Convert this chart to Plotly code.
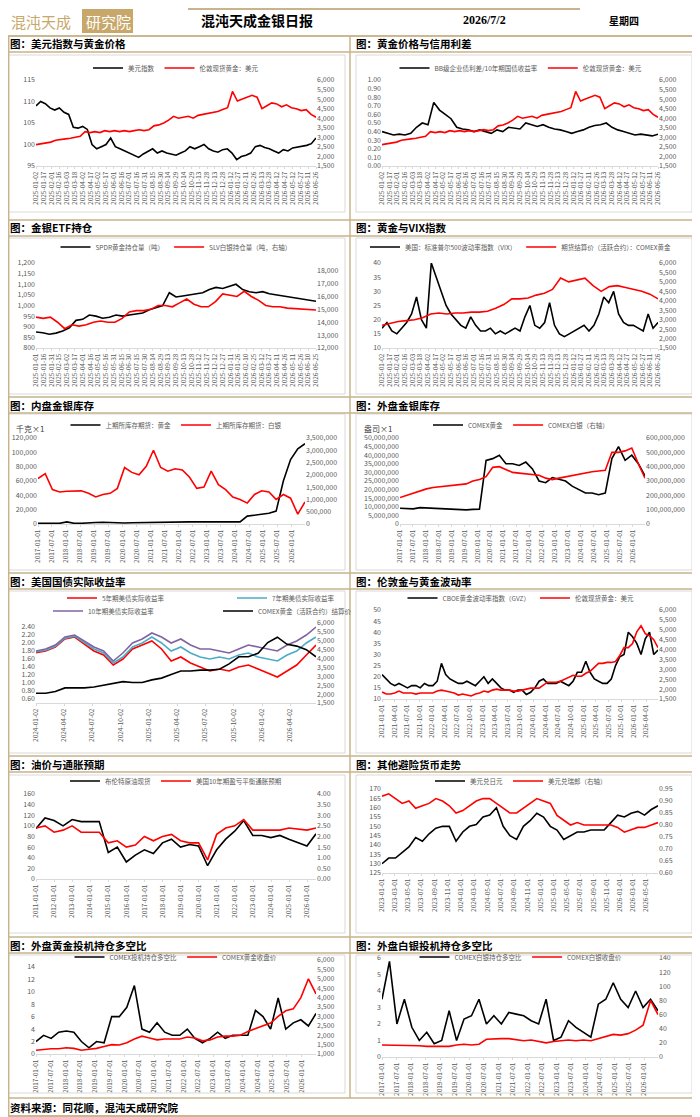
import plotly.graph_objects as go
import pandas as pd

# ---------------- data ----------------
dxy = [109,110,109.5,108.5,108,108.5,107.5,107,104,103.8,104.2,103.5,100,99,99.5,100,101.5,99.5,99,98.5,98,97.5,97,97.8,98.5,99,98,98.5,98,97.8,97.5,98,98.5,99.5,99,99.5,100,99,98.5,98.2,98.8,99,98,96.5,97.2,97.5,98,99.5,99.8,99.3,99,98.5,98,98.8,98.5,99.2,99.4,99.5,99.8,100.2,101.5]
gold_ldn = [2620,2650,2700,2750,2850,2900,2920,2950,3000,3050,3300,3250,3300,3250,3350,3300,3350,3300,3350,3300,3350,3400,3350,3400,3600,3650,3750,3900,4100,4000,4050,4100,4000,4150,4200,4250,4300,4350,4450,4550,5400,4900,5000,5100,5200,5100,4500,4650,4800,4750,4600,4700,4550,4500,4400,4450,4200,4050]
spread = [0.40,0.38,0.36,0.37,0.36,0.38,0.45,0.50,0.48,0.74,0.65,0.60,0.55,0.45,0.43,0.42,0.40,0.42,0.40,0.38,0.42,0.40,0.45,0.44,0.43,0.50,0.48,0.46,0.48,0.45,0.43,0.42,0.40,0.38,0.40,0.42,0.45,0.47,0.48,0.50,0.45,0.42,0.40,0.38,0.36,0.37,0.36,0.35,0.37]
spdr = [875,872,865,870,880,895,930,935,955,950,940,945,955,950,955,960,965,980,990,1000,1060,1040,1045,1050,1055,1060,1075,1085,1080,1090,1100,1075,1065,1060,1065,1055,1050,1045,1040,1035,1030,1025,1020]
slv = [14400,14300,14400,14000,13500,13800,13700,13800,14000,14100,14000,14000,14300,14800,14900,14900,15000,15300,15300,15200,15500,15800,15400,15200,15200,15600,16200,16100,16000,16400,16000,15700,15300,15200,15200,15100,15050,15000,15000,14950]
vix = [17,19,16,15,17,19,22,28,20,17,40,35,30,25,22,20,18,17,21,18,16,16,17,15,16,15,16,17,16,21,25,18,17,19,26,18,15,14,15,16,17,18,16,18,22,28,26,30,22,19,18,18,17,16,22,17,19]
gold_comex = [2700,2800,2900,2950,3000,3100,3300,3350,3300,3350,3350,3400,3400,3450,3600,3800,4100,4100,4150,4300,4400,4600,5200,5000,5100,5200,4800,4500,4750,4800,4700,4600,4500,4350,4100]
shfe_gold = [1000,1000,1500,1000,3000,1000,1000,1000,2000,2500,2000,1500,1500,1800,2000,2000,3000,3000,3000,3000,3500,3000,3000,3000,3000,3000,2500,3000,3000,11000,12000,14000,15000,18000,60000,90000,105000,112000]
shfe_silver = [1850000,2050000,1400000,1300000,1330000,1330000,1350000,1250000,1100000,1200000,1250000,1450000,2300000,2100000,2000000,2350000,3000000,2300000,2150000,2250000,2200000,1900000,1450000,1500000,2150000,1600000,1400000,1100000,1000000,850000,1200000,1350000,1300000,1000000,1200000,1050000,400000,900000]
comex_gold_inv = [9.2e6,9.0e6,8.8e6,9.5e6,9.3e6,9.0e6,8.8e6,8.5e6,8.3e6,8.0e6,8.2e6,8.5e6,8.6e6,37e6,38e6,40e6,35e6,35e6,34e6,36e6,32e6,25e6,24e6,27e6,26e6,25e6,22e6,20e6,18e6,18e6,17e6,18e6,38e6,45e6,37e6,40e6,35e6,28e6]
comex_silver_inv = [185e6,200e6,215e6,235e6,245e6,255e6,260e6,265e6,270e6,275e6,280e6,300e6,310e6,330e6,395e6,400e6,380e6,360e6,355e6,350e6,345e6,340e6,320e6,310e6,320e6,330e6,340e6,350e6,360e6,365e6,370e6,375e6,500e6,500e6,510e6,530e6,420e6,320e6]
tips10 = [1.80,1.85,1.95,2.15,2.20,2.05,1.90,1.80,1.55,1.75,2.00,2.10,2.25,2.15,2.00,2.10,1.95,1.85,1.85,1.80,1.75,1.85,1.95,1.90,1.85,1.80,1.95,2.05,2.20,2.40]
tips7 = [1.78,1.82,1.92,2.12,2.17,2.00,1.85,1.75,1.50,1.65,1.90,2.00,2.15,2.00,1.80,1.90,1.75,1.65,1.60,1.65,1.60,1.70,1.75,1.65,1.60,1.55,1.70,1.80,2.00,2.15]
tips5 = [1.76,1.80,1.90,2.10,2.15,1.98,1.80,1.70,1.45,1.60,1.85,1.95,2.05,1.85,1.55,1.65,1.50,1.40,1.30,1.35,1.30,1.40,1.45,1.35,1.25,1.15,1.30,1.45,1.70,1.95]
gold_comex2 = [2050,2050,2150,2350,2350,2350,2400,2500,2600,2700,2650,2650,2800,2900,3100,3300,3300,3350,3350,3400,3700,4100,4100,4300,4900,5200,4800,4700,4500,4100]
gvz = [21,19,17,16,17,16,15,16,16,15,17,16,16,18,26,21,19,18,17,17,18,17,16,18,20,17,19,17,15,14,14,13,14,14,12,13,15,18,19,17,17,17,18,17,16,18,22,22,27,22,19,18,17,17,19,25,29,30,40,38,35,30,37,40,30,32]
gold_ldn2 = [1850,1750,1750,1800,1900,1800,1800,1800,1750,1800,1800,1800,1800,1900,1950,1900,1850,1800,1700,1750,1700,1650,1750,1800,1900,1850,1950,2000,1950,1950,1950,1900,1900,1950,2000,2050,2050,2050,2200,2350,2350,2350,2400,2500,2600,2700,2650,2650,2800,2900,3100,3300,3300,3350,3350,3400,3700,4100,4100,4300,4900,5200,4800,4700,4500,4100]
brent = [95,115,110,100,112,108,108,108,50,60,32,45,55,48,68,75,60,65,62,25,55,75,90,110,82,82,78,82,75,68,62,85]
breakeven = [2.4,2.5,2.2,2.3,2.5,2.2,2.2,2.2,1.7,1.8,1.5,1.6,2.0,1.8,2.0,2.1,1.8,1.7,1.7,0.9,2.1,2.4,2.5,2.8,2.3,2.3,2.3,2.3,2.4,2.35,2.3,2.4]
usdjpy = [130,133,133,136,139,144,142,146,149,150,150,142,147,150,151,155,156,160,150,145,143,150,153,157,155,150,148,143,145,147,147,148,148,148,152,156,155,157,158,156,159,161]
usdchf = [0.92,0.93,0.91,0.89,0.90,0.87,0.88,0.89,0.91,0.90,0.88,0.85,0.86,0.88,0.90,0.91,0.91,0.89,0.87,0.85,0.85,0.87,0.89,0.91,0.90,0.89,0.84,0.82,0.80,0.81,0.80,0.80,0.80,0.80,0.80,0.79,0.77,0.78,0.79,0.79,0.80,0.81]
gold_ratio = [2,3,2.5,3.5,3.7,3.5,2.0,1.0,2.0,1.8,6.0,6.0,7.5,11,4.0,3.5,5.0,3.5,3.0,3.0,4.0,2.5,1.8,2.5,3.5,2.5,3.0,3.0,3.0,7,6,4,9,4,5,5.5,4.5,6.5]
gold_close = [1200,1250,1280,1280,1330,1300,1200,1250,1300,1400,1500,1480,1600,1800,1950,1850,1750,1800,1800,1800,1900,1850,1700,1750,1900,1950,1950,2000,2200,2350,2500,2650,3000,3300,3400,4000,5000,4200]
silver_ratio = [3.5,5.8,2.0,3.5,1.8,1.0,1.5,0.8,1.0,2.8,1.0,2.3,2.5,3.5,2.0,2.5,2.0,2.7,2.6,2.5,2.2,2.0,3.5,1.0,1.2,2.2,1.8,1.5,1.2,3.2,3.5,4.5,3.5,3.0,4.0,3.0,3.5,2.8]
silver_close = [17,17,17,16,16,16,15,15,15,15,17,18,17,18,25,26,26,26,24,23,24,22,20,22,23,24,23,24,23,26,30,32,31,33,38,45,80,60]

RED, BLK = "#ff0000", "#000000"
D15 = 15 * 86400000

panels = [
    ("图：美元指数与黄金价格", 0, 0, "2025-01-02", "2026-06-26", "2025-01-02", D15,
     [("美元指数", dxy, BLK, 1), ("伦敦现货黄金：美元", gold_ldn, RED, 2)],
     (95, 115, 5, ",.0f"), (1500, 6000, 500, ",.0f")),
    ("图：黄金价格与信用利差", 1, 0, "2025-01-02", "2026-06-26", "2025-01-02", D15,
     [("BB级企业债利差/10年期国债收益率", spread, BLK, 1), ("伦敦现货黄金：美元", gold_ldn, RED, 2)],
     (0, 1, 0.1, ".2f"), (1500, 6000, 500, ",.0f")),
    ("图：金银ETF持仓", 0, 1, "2025-01-01", "2026-06-25", "2025-01-01", D15,
     [("SPDR黄金持仓量（吨）", spdr, BLK, 1), ("SLV白银持仓量（吨，右轴）", slv, RED, 2)],
     (800, 1200, 50, ",.0f"), (12000, 18600, 1000, ",.0f")),
    ("图：黄金与VIX指数", 1, 1, "2025-01-02", "2026-06-26", "2025-01-02", D15,
     [("美国：标准普尔500波动率指数（VIX）", vix, BLK, 1), ("期货结算价（活跃合约）：COMEX黄金", gold_comex, RED, 2)],
     (10, 40, 5, ",.0f"), (1500, 6000, 500, ",.0f")),
    ("图：内盘金银库存", 0, 2, "2017-01-01", "2026-06-25", "2017-01-01", "M6",
     [("上期所库存期货：黄金", shfe_gold, BLK, 1), ("上期所库存期货：白银", shfe_silver, RED, 2)],
     (0, 120000, 20000, ",.0f"), (0, 3500000, 500000, ",.0f")),
    ("图：外盘金银库存", 1, 2, "2017-01-01", "2026-06-25", "2017-01-01", "M6",
     [("COMEX黄金", comex_gold_inv, BLK, 1), ("COMEX白银（右轴）", comex_silver_inv, RED, 2)],
     (0, 50e6, 5e6, ",.0f"), (0, 600e6, 100e6, ",.0f")),
    ("图：美国国债实际收益率", 0, 3, "2024-01-02", "2026-06-25", "2024-01-02", "M3",
     [("5年期美债实际收益率", tips5, RED, 1), ("7年期美债实际收益率", tips7, "#4bacc6", 1),
      ("10年期美债实际收益率", tips10, "#8064a2", 1), ("COMEX黄金（活跃合约）结算价", gold_comex2, BLK, 2)],
     (0.5, 2.5, 0.2, ".2f"), (1500, 6000, 500, ",.0f")),
    ("图：伦敦金与黄金波动率", 1, 3, "2021-01-01", "2026-06-25", "2021-01-01", "M3",
     [("CBOE黄金波动率指数（GVZ）", gvz, BLK, 1), ("伦敦现货黄金：美元", gold_ldn2, RED, 2)],
     (10, 50, 5, ",.0f"), (1500, 6000, 500, ",.0f")),
    ("图：油价与通胀预期", 0, 4, "2011-01-01", "2026-06-25", "2011-01-01", "M12",
     [("布伦特原油现货", brent, BLK, 1), ("美国10年期盈亏平衡通胀预期", breakeven, RED, 2)],
     (0, 160, 20, ",.0f"), (0, 4, 0.5, ".2f")),
    ("图：其他避险货币走势", 1, 4, "2023-01-01", "2026-06-25", "2023-01-01", "M2",
     [("美元兑日元", usdjpy, BLK, 1), ("美元兑瑞郎（右轴）", usdchf, RED, 2)],
     (125, 170, 5, ",.0f"), (0.60, 0.95, 0.05, ".2f")),
    ("图：外盘黄金投机持仓多空比", 0, 5, "2017-01-01", "2026-06-25", "2017-01-01", "M6",
     [("COMEX投机持仓多空比", gold_ratio, BLK, 1), ("COMEX黄金收盘价", gold_close, RED, 2)],
     (0, 15.1, 2, ",.0f"), (1000, 6000, 500, ",.0f")),
    ("图：外盘白银投机持仓多空比", 1, 5, "2017-01-01", "2026-06-25", "2017-01-01", "M6",
     [("COMEX白银持仓多空比", silver_ratio, BLK, 1), ("COMEX白银收盘价", silver_close, RED, 2)],
     (0, 6, 1, ",.0f"), (0, 140, 20, ",.0f")),
]

OFF = 8
W, H = 700 - OFF, 1117 - OFF
def py(v): return max(0.0, min(1.0, 1 - (v - OFF) / H))
def px(v): return max(0.0, min(1.0, (v - OFF) / W))

title_y = [44, 228, 405, 581, 764, 945]
box = [(55, 212), (238, 394), (414, 570), (591, 753), (775, 933), (955, 1093)]
plot_y = [(80, 166), (263, 348), (438, 524), (623, 703), (794, 879), (960, 1054)]
plot_y_right = {3: (610, 699), 4: (789, 873), 5: (958, 1057)}
legend_y = [68, 247, 425, 598, 781, 957]
col_x = [(36, 316), (382, 658)]
col_x_row3 = [(38, 305), (400, 645)]
col_center = [176, 521]

fig = go.Figure()
layout = dict(width=W, height=H, margin=dict(l=0, r=0, t=0, b=0, autoexpand=False),
              paper_bgcolor="white", plot_bgcolor="rgba(0,0,0,0)", showlegend=True,
              font=dict(family="Noto Sans CJK SC", size=7, color="#595959"))
shapes, annots = [], []
TAN = "#c8b48a"

def legend_cfg(x, y, xanchor="center", **kw):
    d = dict(orientation="h", x=px(x), xanchor=xanchor, y=py(y), yanchor="middle",
             font=dict(size=6.5, color="#595959"), bgcolor="rgba(0,0,0,0)",
             itemwidth=30, tracegroupgap=0)
    d.update(kw)
    return d

extra_leg = 13
for i, (title, c, r, start, end, t0, dt, series, la, ra) in enumerate(panels):
    k = i + 1
    xa = "x" if k == 1 else f"x{k}"
    yl = 2 * k - 1
    yr = 2 * k
    yln = "y" if yl == 1 else f"y{yl}"
    yrn = f"y{yr}"
    leg = "legend" if k == 1 else f"legend{k}"
    for j, (name, vals, color, side) in enumerate(series):
        dates = pd.date_range(start, end, periods=len(vals))
        lname = leg
        if len(series) == 4 and j >= 2:
            lname = f"legend{extra_leg}"
        fig.add_trace(go.Scatter(x=dates, y=vals, name=name, mode="lines",
                                 line=dict(color=color, width=1.6),
                                 xaxis=xa, yaxis=yln if side == 1 else yrn, legend=lname))
    y0, y1 = plot_y[r]
    if c == 1 and r in plot_y_right:
        y0, y1 = plot_y_right[r]
    x0, x1 = (col_x_row3 if r == 2 else col_x)[c]
    layout[f"xaxis{'' if k == 1 else k}"] = dict(
        domain=[px(x0), px(x1)], anchor=yln, type="date", range=[start, end],
        tick0=t0, dtick=dt, tickformat="%Y-%m-%d", tickangle=-90, automargin=False,
        showgrid=False, showline=True, linecolor="#d9d9d9", ticks="outside",
        ticklen=2, tickcolor="#d9d9d9", tickfont=dict(size=6.5), zeroline=False)
    layout[f"yaxis{'' if yl == 1 else yl}"] = dict(
        domain=[py(y1), py(y0)], anchor=xa, range=[la[0], la[1]], dtick=la[2],
        tickformat=la[3], showgrid=False, zeroline=False, showline=False,
        automargin=False, tickfont=dict(size=7))
    layout[f"yaxis{yr}"] = dict(
        domain=[py(y1), py(y0)], anchor=xa, overlaying=yln, side="right",
        range=[ra[0], ra[1]], dtick=ra[2], tickformat=ra[3], showgrid=False,
        zeroline=False, showline=False, automargin=False, tickfont=dict(size=7))
    if len(series) == 4:
        layout[leg] = legend_cfg(62, 598, xanchor="left", entrywidth=125)
        layout[f"legend{extra_leg}"] = legend_cfg(48, 611, xanchor="left", entrywidth=125)
    else:
        layout[leg] = legend_cfg(col_center[c], legend_y[r])
    bx0 = 8 if c == 0 else 356
    bx1 = 345 if c == 0 else 692
    shapes.append(dict(type="rect", xref="paper", yref="paper", x0=px(bx0), x1=px(bx1),
                       y0=py(box[r][1]), y1=py(box[r][0]), line=dict(color="#d9d9d9", width=1)))
    annots.append(dict(text=f"<b>{title}</b>", xref="paper", yref="paper",
                       x=px(3 if c == 0 else 354), y=py(title_y[r]), xanchor="left",
                       yanchor="middle", showarrow=False,
                       font=dict(family="Noto Sans CJK SC", size=10.5, color="#000")))

annots.append(dict(text="千克×1", xref="paper", yref="paper", x=px(14), y=py(428), xanchor="left",
                   yanchor="middle", showarrow=False, font=dict(size=8, color="#404040")))
annots.append(dict(text="盎司×1", xref="paper", yref="paper", x=px(362), y=py(428), xanchor="left",
                   yanchor="middle", showarrow=False, font=dict(size=8, color="#404040")))

for ty in title_y:
    shapes.append(dict(type="rect", xref="paper", yref="paper", x0=0, x1=1,
                       y0=py(ty + 8), y1=py(ty - 8), line=dict(color=TAN, width=1.5)))
shapes.append(dict(type="rect", xref="paper", yref="paper", x0=0.001, x1=0.999,
                   y0=0.001, y1=py(36), line=dict(color=TAN, width=1.5)))
shapes.append(dict(type="rect", xref="paper", yref="paper", x0=0, x1=1,
                   y0=py(1116), y1=py(1098), line=dict(color=TAN, width=1.5)))
shapes.append(dict(type="line", xref="paper", yref="paper", x0=px(350), x1=px(350),
                   y0=py(1098), y1=py(36), line=dict(color=TAN, width=1.5)))
shapes.append(dict(type="line", xref="paper", yref="paper", x0=px(188), x1=px(580),
                   y0=py(9), y1=py(9), line=dict(color=TAN, width=2)))
shapes.append(dict(type="rect", xref="paper", yref="paper", x0=px(82), x1=px(133),
                   y0=py(33), y1=py(9), line=dict(width=0), fillcolor="#c8a86a"))
hdr = dict(xref="paper", yref="paper", showarrow=False, yanchor="middle")
annots += [
    dict(text="混沌天成", x=px(9), y=py(21), xanchor="left",
         font=dict(family="Noto Sans CJK SC", size=15, color="#c8a86a"), **hdr),
    dict(text="研究院", x=px(84), y=py(21), xanchor="left",
         font=dict(family="Noto Sans CJK SC", size=15, color="#ffffff"), **hdr),
    dict(text="<b>混沌天成金银日报</b>", x=px(257), y=py(20),
         font=dict(family="Noto Sans CJK SC", size=14, color="#000"), **hdr),
    dict(text="<b>2026/7/2</b>", x=px(508), y=py(20),
         font=dict(family="Liberation Serif", size=12, color="#000"), **hdr),
    dict(text="<b>星期四</b>", x=px(641), y=py(20),
         font=dict(family="Noto Sans CJK SC", size=10, color="#000"), **hdr),
    dict(text="<b>资料来源：同花顺，混沌天成研究院</b>", x=px(8), y=py(1107), xanchor="left",
         font=dict(family="Noto Sans CJK SC", size=10.5, color="#000"), **hdr),
]
layout["shapes"] = shapes
layout["annotations"] = annots
fig.update_layout(**layout)
fig.write_html("out.html")
